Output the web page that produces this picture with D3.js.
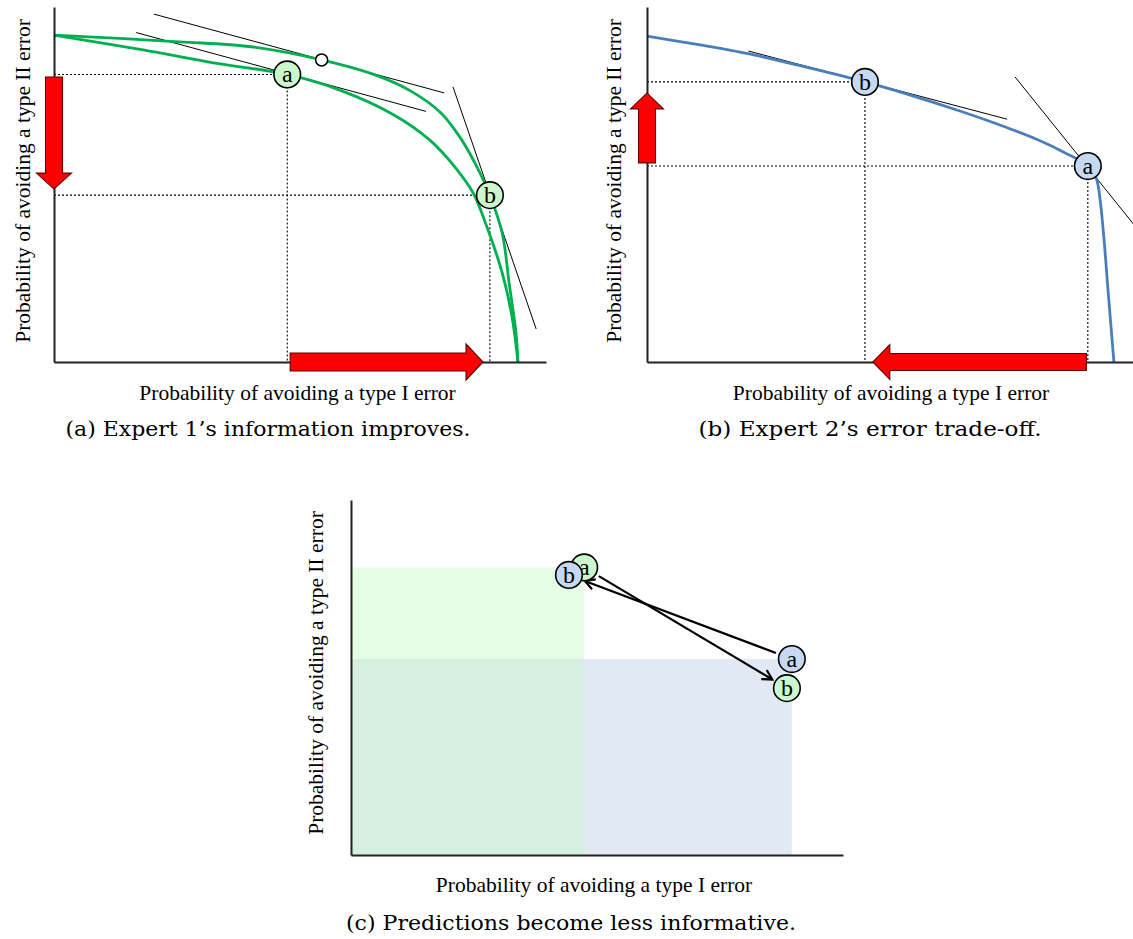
<!DOCTYPE html>
<html>
<head>
<meta charset="utf-8">
<script src="https://cdn.jsdelivr.net/npm/d3@7"></script>
<style>
  body { margin: 0; background: #fff; }
  svg { display: block; }
  text { font-family: "Liberation Serif", "Times New Roman", serif; fill: #000; }
  text.caption { font-family: "DejaVu Serif", serif; }
</style>
</head>
<body>
<svg id="fig" width="1133" height="939"></svg>
<script>
// ---- Data (probabilities of avoiding type I error (x) and type II error (y)) ----

// Expert 1: error frontier before and after the information improves
const expert1Before = [[0,0.921],[0.181,0.879],[0.327,0.842],[0.474,0.81],[0.581,0.766],[0.691,0.696],[0.764,0.625],[0.815,0.549],[0.852,0.476],[0.880,0.380],[0.911,0.251],[0.931,0.127],[0.943,0]];
const expert1After  = [[0,0.921],[0.254,0.902],[0.400,0.888],[0.544,0.851],[0.654,0.808],[0.728,0.761],[0.787,0.701],[0.829,0.625],[0.866,0.532],[0.886,0.470],[0.911,0.363],[0.925,0.223],[0.939,0.082],[0.943,0]];
const expert1Points = [{ id: "a", x: 0.474, y: 0.81 }, { id: "b", x: 0.886, y: 0.47 }];
const expert1Touch  = [0.544, 0.851];                       // old slope touching the new frontier
const expert1Tangents = [
  [[0.203, 0.980], [0.793, 0.758]],
  [[0.167, 0.928], [0.756, 0.706]],
  [[0.811, 0.775], [0.980, 0.093]]
];
const expert1ShiftY = [0.803, 0.487];                       // type II accuracy falls
const expert1ShiftX = [0.480, 0.872];                       // type I accuracy rises

// Expert 2: a single frontier, moving along it
const expert2Frontier = [[0,0.918],[0.108,0.893],[0.217,0.865],[0.331,0.828],[0.443,0.789],[0.535,0.752],[0.636,0.707],[0.728,0.662],[0.799,0.623],[0.850,0.589],[0.896,0.552],[0.913,0.518],[0.921,0.456],[0.929,0.344],[0.937,0.203],[0.949,0]];
const expert2Points = [{ id: "a", x: 0.896, y: 0.552 }, { id: "b", x: 0.443, y: 0.789 }];
const expert2Tangents = [
  [[0.206, 0.876], [0.732, 0.684]],
  [[0.748, 0.803], [0.992, 0.383]]
];
const expert2ShiftY = [0.561, 0.758];                       // type II accuracy rises
const expert2ShiftX = [0.893, 0.459];                       // type I accuracy falls

const xLabel = "Probability of avoiding a type I error";
const yLabel = "Probability of avoiding a type II error";
const captions = ["(a) Expert 1\u2019s information improves.", "(b) Expert 2\u2019s error trade-off.", "(c) Predictions become less informative."];

// ---- Styling ----
const GREEN = "#00b050", BLUE = "#4a7ebb";
const GREEN_FILL = "#ccf7cc", BLUE_FILL = "#c6d9f1";
const RED = "#ff0000", RED_EDGE = "#5a0000";
const R = 13.3;

const svg = d3.select("#fig");

function scales(f) {
  return {
    x: d3.scaleLinear().domain([0, 1]).range([f.left, f.right]),
    y: d3.scaleLinear().domain([0, 1]).range([f.bottom, f.top])
  };
}

function drawAxes(g, s) {
  const ax = g.append("g").attr("transform", `translate(0,${s.y(0)})`)
    .call(d3.axisBottom(s.x).tickValues([]).tickSizeOuter(0));
  const ay = g.append("g").attr("transform", `translate(${s.x(0)},0)`)
    .call(d3.axisLeft(s.y).tickValues([]).tickSizeOuter(0));
  [ax, ay].forEach(a => a.select(".domain").attr("stroke", "#222").attr("stroke-width", 2));
}

function drawLabels(g, lx, ly, yx, yy) {
  g.append("text").attr("x", lx).attr("y", ly).attr("text-anchor", "middle")
    .attr("font-size", 21.5).text(xLabel);
  g.append("text").attr("transform", `translate(${yx},${yy}) rotate(-90)`)
    .attr("text-anchor", "middle").attr("font-size", 21.5).text(yLabel);
}

function drawCaption(g, text, cx, by, len) {
  g.append("text").attr("class", "caption").attr("x", cx).attr("y", by).attr("text-anchor", "middle")
    .attr("font-size", 20).attr("textLength", len).attr("lengthAdjust", "spacingAndGlyphs").text(text);
}

function blockArrow(g, p0, p1, shaft, head, headLen) {
  const dx = p1[0] - p0[0], dy = p1[1] - p0[1], L = Math.hypot(dx, dy);
  const ux = dx / L, uy = dy / L, nx = -uy, ny = ux, b = L - headLen;
  const pt = (s, t) => [p0[0] + ux * s + nx * t, p0[1] + uy * s + ny * t];
  const pts = [pt(0, -shaft / 2), pt(b, -shaft / 2), pt(b, -head / 2), pt(L, 0),
               pt(b, head / 2), pt(b, shaft / 2), pt(0, shaft / 2)];
  g.append("path").attr("d", d3.line()(pts) + "Z")
    .attr("fill", RED).attr("stroke", RED_EDGE).attr("stroke-width", 1.1)
    .attr("stroke-linejoin", "miter");
}

function lineArrow(g, p0, p1, trim) {
  const dx = p1[0] - p0[0], dy = p1[1] - p0[1], L = Math.hypot(dx, dy);
  const ux = dx / L, uy = dy / L;
  const a = [p0[0] + ux * trim, p0[1] + uy * trim];
  const e = [p1[0] - ux * trim, p1[1] - uy * trim];
  g.append("path").attr("d", d3.line()([a, e]))
    .attr("stroke", "#000").attr("stroke-width", 2.2).attr("fill", "none");
  const ang = Math.atan2(dy, dx), hl = 11, spread = 0.5;
  const w1 = [e[0] - hl * Math.cos(ang - spread), e[1] - hl * Math.sin(ang - spread)];
  const w2 = [e[0] - hl * Math.cos(ang + spread), e[1] - hl * Math.sin(ang + spread)];
  g.append("path").attr("d", d3.line()([w1, e, w2]))
    .attr("stroke", "#000").attr("stroke-width", 2.2).attr("fill", "none")
    .attr("stroke-linejoin", "miter");
}

function marker(g, cx, cy, id, fill) {
  g.append("circle").attr("cx", cx).attr("cy", cy).attr("r", R)
    .attr("fill", fill).attr("stroke", "#000").attr("stroke-width", 1.6);
  g.append("text").attr("x", cx).attr("y", cy + 8).attr("text-anchor", "middle")
    .attr("font-size", 24).text(id);
}

function guides(g, s, p) {
  const dash = { "stroke": "#000", "stroke-width": 1.1, "stroke-dasharray": "2,2", "fill": "none" };
  const h = g.append("line").attr("x1", s.x(0)).attr("x2", s.x(p.x)).attr("y1", s.y(p.y)).attr("y2", s.y(p.y));
  const v = g.append("line").attr("x1", s.x(p.x)).attr("x2", s.x(p.x)).attr("y1", s.y(p.y)).attr("y2", s.y(0));
  [h, v].forEach(l => Object.entries(dash).forEach(([k, val]) => l.attr(k, val)));
}

function tangents(g, s, list) {
  g.selectAll(null).data(list).join("line")
    .attr("x1", d => s.x(d[0][0])).attr("y1", d => s.y(d[0][1]))
    .attr("x2", d => s.x(d[1][0])).attr("y2", d => s.y(d[1][1]))
    .attr("stroke", "#000").attr("stroke-width", 1);
}

function frontier(g, s, data, color) {
  const line = d3.line().x(d => s.x(d[0])).y(d => s.y(d[1])).curve(d3.curveCatmullRom.alpha(0.5));
  g.append("path").attr("d", line(data)).attr("fill", "none")
    .attr("stroke", color).attr("stroke-width", 2.8);
}

// ---- Panel (a): Expert 1 ----
{
  const g = svg.append("g");
  const s = scales({ left: 54, right: 546, bottom: 362, top: 7 });
  expert1Points.forEach(p => guides(g, s, p));
  tangents(g, s, expert1Tangents);
  frontier(g, s, expert1Before, GREEN);
  frontier(g, s, expert1After, GREEN);
  drawAxes(g, s);
  blockArrow(g, [s.x(0), s.y(expert1ShiftY[0])], [s.x(0), s.y(expert1ShiftY[1])], 17, 35, 16);
  blockArrow(g, [s.x(expert1ShiftX[0]), s.y(0)], [s.x(expert1ShiftX[1]), s.y(0)], 18, 36, 17);
  g.append("circle").attr("cx", s.x(expert1Touch[0])).attr("cy", s.y(expert1Touch[1])).attr("r", 6)
    .attr("fill", "#fff").attr("stroke", "#000").attr("stroke-width", 1.5);
  expert1Points.forEach(p => marker(g, s.x(p.x), s.y(p.y), p.id, GREEN_FILL));
  drawLabels(g, 297.5, 400, 29.5, 181);
  drawCaption(g, captions[0], 268, 436, 405);
}

// ---- Panel (b): Expert 2 ----
{
  const g = svg.append("g");
  const s = scales({ left: 647, right: 1139, bottom: 362, top: 7 });
  expert2Points.forEach(p => guides(g, s, p));
  tangents(g, s, expert2Tangents);
  frontier(g, s, expert2Frontier, BLUE);
  drawAxes(g, s);
  blockArrow(g, [s.x(0), s.y(expert2ShiftY[0])], [s.x(0), s.y(expert2ShiftY[1])], 17, 33, 16);
  blockArrow(g, [s.x(expert2ShiftX[0]), s.y(0)], [s.x(expert2ShiftX[1]), s.y(0)], 17, 35, 17);
  expert2Points.forEach(p => marker(g, s.x(p.x), s.y(p.y), p.id, BLUE_FILL));
  drawLabels(g, 891, 400, 621, 181);
  drawCaption(g, captions[1], 870, 436, 343);
}

// ---- Panel (c): both experts' predictions ----
{
  const g = svg.append("g");
  const s = scales({ left: 351, right: 843, bottom: 855, top: 500 });
  const e1a = expert1Points[0], e1b = expert1Points[1];
  const e2a = expert2Points[0], e2b = expert2Points[1];
  // regions dominated by each expert's initial prediction
  g.append("rect").attr("x", s.x(0)).attr("y", s.y(e1a.y))
    .attr("width", s.x(e1a.x) - s.x(0)).attr("height", s.y(0) - s.y(e1a.y)).attr("fill", "#e5fde5");
  g.append("rect").attr("x", s.x(0)).attr("y", s.y(e2a.y))
    .attr("width", s.x(e2a.x) - s.x(0)).attr("height", s.y(0) - s.y(e2a.y)).attr("fill", "#e1e9f4");
  const ox = Math.min(e1a.x, e2a.x), oy = Math.min(e1a.y, e2a.y);
  g.append("rect").attr("x", s.x(0)).attr("y", s.y(oy))
    .attr("width", s.x(ox) - s.x(0)).attr("height", s.y(0) - s.y(oy)).attr("fill", "#d5f0e0");
  drawAxes(g, s);
  lineArrow(g, [s.x(e2a.x), s.y(e2a.y)], [s.x(e2b.x), s.y(e2b.y)], 17);
  lineArrow(g, [s.x(e1a.x), s.y(e1a.y)], [s.x(e1b.x), s.y(e1b.y)], 17);
  marker(g, s.x(e1a.x), s.y(e1a.y), e1a.id, GREEN_FILL);
  marker(g, s.x(e2b.x), s.y(e2b.y), e2b.id, BLUE_FILL);
  marker(g, s.x(e2a.x), s.y(e2a.y), e2a.id, BLUE_FILL);
  marker(g, s.x(e1b.x), s.y(e1b.y), e1b.id, GREEN_FILL);
  drawLabels(g, 594, 892, 322.5, 673);
  drawCaption(g, captions[2], 571, 930, 450);
}
</script>
</body>
</html>
